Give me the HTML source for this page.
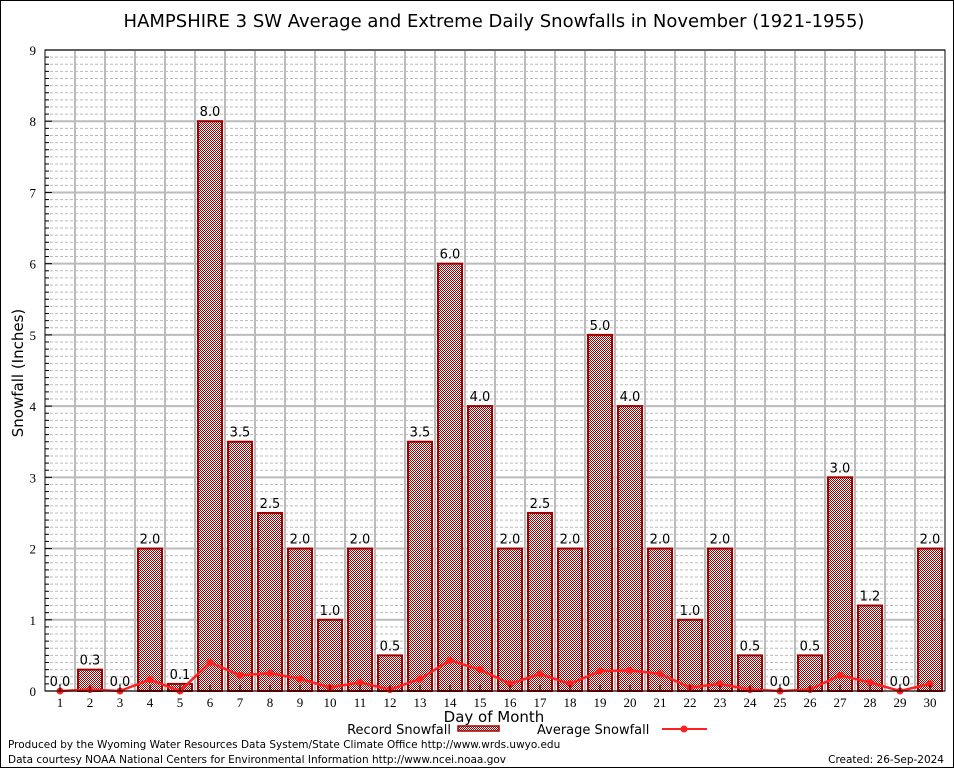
<!DOCTYPE html>
<html><head><meta charset="utf-8"><style>
html,body{margin:0;padding:0;background:#fff;}
svg{display:block;font-family:"DejaVu Sans","Liberation Sans",sans-serif;}
</style></head><body>
<svg id="chart" width="954" height="768" viewBox="0 0 954 768">
<defs>
<pattern id="chk" width="2" height="2" patternUnits="userSpaceOnUse">
<rect width="2" height="2" fill="#fff"/><rect width="1" height="1" fill="#a00000"/><rect x="1" y="1" width="1" height="1" fill="#a00000"/>
</pattern>
</defs>
<rect x="0.5" y="0.5" width="953" height="767" fill="#fff" stroke="#000"/>
<text x="494" y="27" font-size="18" text-anchor="middle">HAMPSHIRE 3 SW Average and Extreme Daily Snowfalls in November (1921-1955)</text>
<g id="grid"></g>
<g id="bars"></g>
<g id="avg"></g>
<g id="axes"></g>
<text x="23" y="373" font-size="15" text-anchor="middle" transform="rotate(-90 23 373)">Snowfall (Inches)</text>
<text x="494" y="722" font-size="15" text-anchor="middle">Day of Month</text>
<g>
<text x="451" y="734" font-size="13" text-anchor="end">Record Snowfall</text>
<rect x="458" y="726" width="41" height="5" fill="url(#chk)" stroke="#a00000" stroke-width="1.5"/>
<text x="537" y="734" font-size="13">Average Snowfall</text>
<line x1="662" y1="729" x2="707" y2="729" stroke="#ff2020" stroke-width="2"/>
<circle cx="684" cy="729" r="3.5" fill="#ff2020"/>
</g>
<text x="8" y="748" font-size="10.5">Produced by the Wyoming Water Resources Data System/State Climate Office http://www.wrds.uwyo.edu</text>
<text x="8" y="763" font-size="10.5">Data courtesy NOAA National Centers for Environmental Information http://www.ncei.noaa.gov</text>
<text x="944" y="763" font-size="10.5" text-anchor="end">Created: 26-Sep-2024</text>
</svg>
<script>
const days=[1,2,3,4,5,6,7,8,9,10,11,12,13,14,15,16,17,18,19,20,21,22,23,24,25,26,27,28,29,30];
const recordValues=[0.0,0.3,0.0,2.0,0.1,8.0,3.5,2.5,2.0,1.0,2.0,0.5,3.5,6.0,4.0,2.0,2.5,2.0,5.0,4.0,2.0,1.0,2.0,0.5,0.0,0.5,3.0,1.2,0.0,2.0];
const averageValues=[0,0.02,0,0.16,0,0.4,0.22,0.25,0.17,0.05,0.12,0.02,0.17,0.43,0.3,0.1,0.24,0.1,0.28,0.29,0.24,0.05,0.1,0.02,0,0.02,0.22,0.12,0,0.1];
const yTicks=[0,1,2,3,4,5,6,7,8,9];
const NS="http://www.w3.org/2000/svg";
const L=45,R=945,T=50,B=691,YMAX=9;
const xs=d=>L+(d-0.5)*(R-L)/days.length;
const ys=v=>B-v*(B-T)/YMAX;
function mk(tag,attrs,parent,txt){const e=document.createElementNS(NS,tag);for(const k in attrs)e.setAttribute(k,attrs[k]);if(txt!==undefined)e.textContent=txt;parent.appendChild(e);return e;}
const grid=document.getElementById('grid'),bars=document.getElementById('bars'),avg=document.getElementById('avg'),axes=document.getElementById('axes');
for(let i=1;i<YMAX*10;i++){if(i%10===0)continue;const y=ys(i/10);
const l=mk('line',{x1:L,x2:R,y1:y,y2:y,stroke:'#bbb','stroke-width':1,'stroke-dasharray':'3,2'},grid);


const mt=mk('line',{x1:L,x2:L+4,y1:y,y2:y,stroke:'#000','stroke-width':1},axes);

}
yTicks.forEach(v=>{const y=ys(v);
const l=mk('line',{x1:L,x2:R,y1:y,y2:y,stroke:'#bbb','stroke-width':2},grid);


const t=mk('text',{x:L-9,y:y+5,'font-size':13,'text-anchor':'end','font-family':'Liberation Serif, serif'},axes,String(v));


const tk=mk('line',{x1:L,x2:L+7,y1:y,y2:y,stroke:'#000','stroke-width':1},axes);

});
for(let i=1;i<days.length;i++){const x=L+i*(R-L)/days.length;
const l=mk('line',{x1:x,x2:x,y1:T,y2:B,stroke:'#bbb','stroke-width':2},grid);

}
days.forEach((d,i)=>{const x=xs(d),v=recordValues[i],y=ys(v);
const r=mk('rect',{x:x-12,y:y,width:24,height:Math.max(B-y,0),fill:'url(#chk)',stroke:'#a00000','stroke-width':2},bars);


const t=mk('text',{x:x,y:y-5,'font-size':13,'text-anchor':'middle'},bars,v.toFixed(1));


const xl=mk('text',{x:x,y:B+16,'font-size':13,'text-anchor':'middle','font-family':'Liberation Serif, serif'},axes,String(d));


const tk=mk('line',{x1:x,x2:x,y1:B,y2:B-6,stroke:'#000'},axes);

});
const pts=days.map((d,i)=>xs(d)+','+ys(averageValues[i])).join(' ');
const pl=mk('polyline',{points:pts,fill:'none',stroke:'#ff2020','stroke-width':2.5},avg);


days.forEach((d,i)=>{const c=mk('circle',{cx:xs(d),cy:ys(averageValues[i]),r:3.5,fill:'#ff2020'},avg);

});
const fr=mk('rect',{x:L,y:T,width:R-L,height:B-T,fill:'none',stroke:'#000','stroke-width':1},axes);


</script>
</body></html>
